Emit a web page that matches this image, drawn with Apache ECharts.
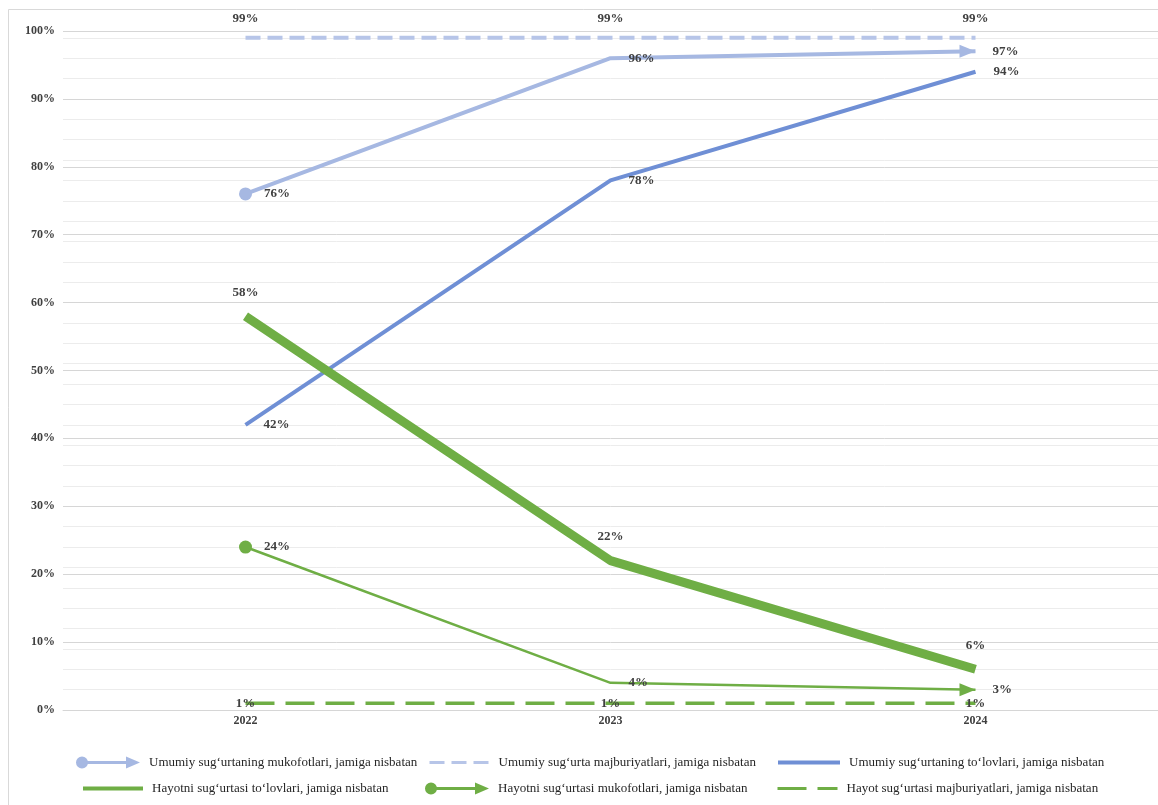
<!DOCTYPE html>
<html>
<head>
<meta charset="utf-8">
<script src="https://cdn.jsdelivr.net/npm/echarts@6/dist/echarts.min.js"></script>
<style>
html,body{margin:0;padding:0;background:#fff;}
#main{width:1158px;height:805px;}
</style>
</head>
<body>
<div id="main"></div>
<script>
// ---- data ----
const years = ['2022', '2023', '2024'];
const umumiyMukofot = [76, 96, 97];      // Umumiy sug‘urtaning mukofotlari
const umumiyMajburiyat = [99, 99, 99];   // Umumiy sug‘urta majburiyatlari
const umumiyTolov = [42, 78, 94];        // Umumiy sug‘urtaning to‘lovlari
const hayotTolov = [58, 22, 6];          // Hayotni sug‘urtasi to‘lovlari
const hayotMukofot = [24, 4, 3];         // Hayotni sug‘urtasi mukofotlari
const hayotMajburiyat = [1, 1, 1];       // Hayot sug‘urtasi majburiyatlari
const seriesNames = [
  'Umumiy sug‘urtaning mukofotlari, jamiga nisbatan',
  'Umumiy sug‘urta majburiyatlari, jamiga nisbatan',
  'Umumiy sug‘urtaning to‘lovlari, jamiga nisbatan',
  'Hayotni sug‘urtasi to‘lovlari, jamiga nisbatan',
  'Hayotni sug‘urtasi mukofotlari, jamiga nisbatan',
  'Hayot sug‘urtasi majburiyatlari, jamiga nisbatan'
];

// ---- styling ----
const C_LIGHT = '#a6b8e2';
const C_DASH = '#b7c5e8';
const C_BLUE = '#6f8fd5';
const C_GREEN = '#6fae45';
const SERIF = '"Liberation Serif","Times New Roman",serif';
const labelStyle = {fontFamily: SERIF, fontWeight: 'bold', fontSize: 13, color: '#404040'};

function arrowData(values, color) {
  const n = values.length;
  return values.map((v, i) => {
    if (i === 0) return {value: v, symbol: 'circle', symbolSize: 13, label: {distance: 12}};
    if (i === n - 1) return {value: v, symbol: 'triangle', symbolSize: [13, 16], symbolRotate: -90, symbolOffset: [-8, 0], label: {distance: 17}};
    return {value: v, symbol: 'circle', symbolSize: 0, label: {distance: 18}};
  });
}

const arrowIcon = 'path://M0,7A6,6,0,1,1,12,7A6,6,0,1,1,0,7Z M10,5.5L50,5.5L50,1L64,7L50,13L50,8.5L10,8.5Z';

function legend(name, left, top, icon, width, lineW) {
  const l = {
    data: [icon ? {name: name, icon: icon} : name],
    left: left, top: top, padding: 0,
    itemWidth: width, itemHeight: 13,
    selectedMode: false,
    textStyle: {fontFamily: SERIF, fontSize: 13, color: '#262626', padding: [0, 0, 0, 4]}
  };
  if (!icon) {
    l.itemStyle = {opacity: 0};
    l.lineStyle = {width: lineW};
  }
  return l;
}

const chart = echarts.init(document.getElementById('main'));
chart.setOption({
  animation: false,
  backgroundColor: '#fff',
  graphic: [{
    type: 'rect', silent: true, z: -10,
    shape: {x: 8.5, y: 9.5, width: 1170, height: 820},
    style: {fill: 'none', stroke: '#d9d9d9', lineWidth: 1}
  }],
  grid: {left: 63, right: 0, top: 31, bottom: 95},
  legend: [
    legend(seriesNames[0], 76, 756, arrowIcon, 64),
    legend(seriesNames[1], 428, 756, null, 60, 3),
    legend(seriesNames[2], 776, 756, null, 62, 4),
    legend(seriesNames[3], 81, 782, null, 60, 4),
    legend(seriesNames[4], 425, 782, arrowIcon, 64),
    legend(seriesNames[5], 776, 782, null, 60, 3)
  ],
  xAxis: {
    type: 'category', data: years,
    axisLine: {show: true, lineStyle: {color: '#d9d9d9'}},
    axisTick: {show: false},
    axisLabel: {fontFamily: SERIF, fontWeight: 'bold', fontSize: 12, color: '#404040', margin: 5}
  },
  yAxis: [{
    type: 'value', min: 0, max: 100, interval: 10, z: 2,
    axisLine: {show: false}, axisTick: {show: false},
    axisLabel: {formatter: '{value}%', fontFamily: SERIF, fontWeight: 'bold', fontSize: 12, color: '#404040', margin: 8},
    splitLine: {lineStyle: {color: '#d6d6d6', width: 1}}
  }, {
    type: 'value', min: 0, max: 100, interval: 3, position: 'left', z: 0,
    axisLine: {show: false}, axisTick: {show: false}, axisLabel: {show: false},
    splitLine: {lineStyle: {color: '#ececec', width: 1}}
  }],
  series: [{
    name: seriesNames[0], type: 'line', data: arrowData(umumiyMukofot),
    color: C_LIGHT, lineStyle: {color: C_LIGHT, width: 4}, itemStyle: {color: C_LIGHT},
    label: Object.assign({show: true, position: 'right', formatter: '{c}%'}, labelStyle), z: 3
  }, {
    name: seriesNames[1], type: 'line', data: umumiyMajburiyat, symbol: 'circle', symbolSize: 0,
    color: C_DASH, lineStyle: {color: C_DASH, width: 4, type: [15, 7]}, itemStyle: {color: C_DASH},
    label: Object.assign({show: true, position: 'top', distance: 13, formatter: '{c}%'}, labelStyle), z: 3
  }, {
    name: seriesNames[2], type: 'line', data: umumiyTolov, symbol: 'circle', symbolSize: 0,
    color: C_BLUE, lineStyle: {color: C_BLUE, width: 4}, itemStyle: {color: C_BLUE},
    label: Object.assign({show: true, position: 'right', distance: 18, formatter: '{c}%'}, labelStyle), z: 3
  }, {
    name: seriesNames[3], type: 'line', data: hayotTolov, symbol: 'circle', symbolSize: 0,
    color: C_GREEN, lineStyle: {color: C_GREEN, width: 9}, itemStyle: {color: C_GREEN},
    label: Object.assign({show: true, position: 'top', distance: 17, formatter: '{c}%'}, labelStyle), z: 3
  }, {
    name: seriesNames[4], type: 'line', data: arrowData(hayotMukofot),
    color: C_GREEN, lineStyle: {color: C_GREEN, width: 2.5}, itemStyle: {color: C_GREEN},
    label: Object.assign({show: true, position: 'right', formatter: '{c}%'}, labelStyle), z: 3
  }, {
    name: seriesNames[5], type: 'line', data: hayotMajburiyat, symbol: 'circle', symbolSize: 0,
    color: C_GREEN, lineStyle: {color: C_GREEN, width: 3.5, type: [29, 11]}, itemStyle: {color: C_GREEN},
    label: Object.assign({show: true, position: 'inside', formatter: '{c}%'}, labelStyle), z: 3
  }]
});
</script>
</body>
</html>
